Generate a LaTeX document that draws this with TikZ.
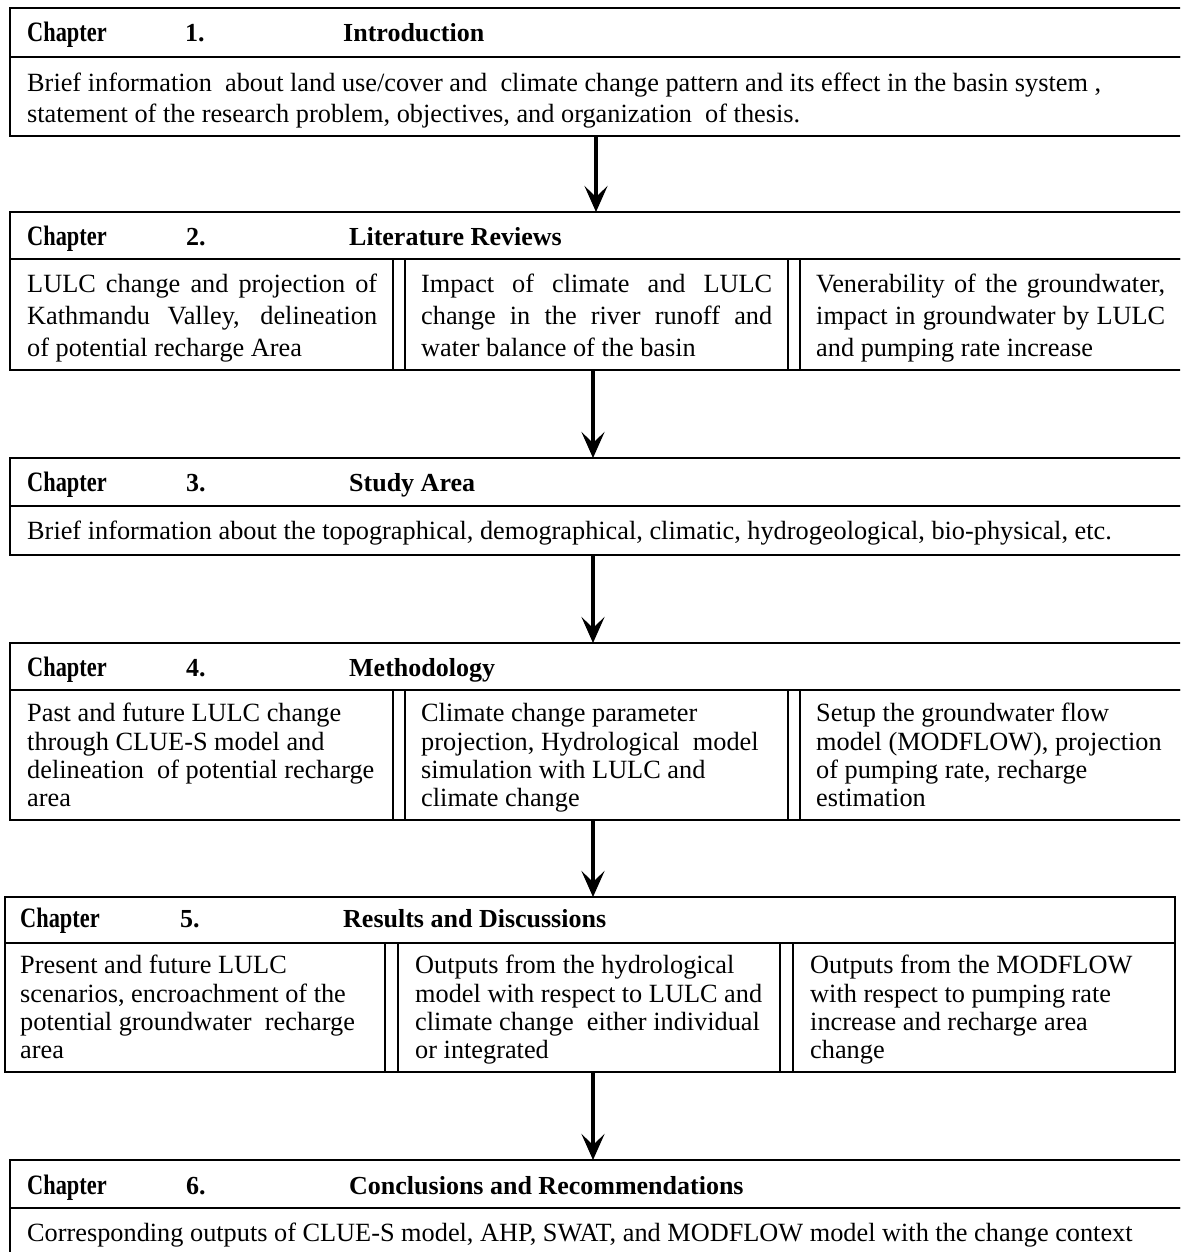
\documentclass[tikz,border=0pt]{standalone}
\usepackage{fontspec}
\usepackage{graphicx}
\setmainfont{Liberation Serif}
\usetikzlibrary{arrows.meta}
\tikzset{
  box/.style={draw=black, line width=1.9pt, rectangle, inner sep=0pt, outer sep=0pt, anchor=north west},
  txt/.style={inner sep=0pt, anchor=base west, font=\fontsize{26.3}{30}\selectfont},
  hd/.style={inner sep=0pt, anchor=base west, font=\fontsize{26}{30}\selectfont\bfseries},
  arr/.style={line width=4.8pt, -{Stealth[length=26pt,width=23pt,inset=11pt]}}
}
\newcommand\tline[4]{\node[txt] (#1) at (#2,#3) {#4};}
\newcommand\jline[5]{\node[txt] (#1) at (#2,#3) {\makebox[#4pt][s]{#5}};}
\newcommand\bx[5]{\node[box, minimum width=#4pt, minimum height=#5pt] (#1) at (#2,#3) {};}
\newcommand\chap{\scalebox{0.86}[1.08]{Chapter}}
\begin{document}
\begin{tikzpicture}[x=1pt,y=-1pt]
\useasboundingbox (0,0) rectangle (1180,1252);
\clip (0,0) rectangle (1180,1252);
% ---------------- Chapter 1
\bx{c1h}{10}{8}{1200}{49}
\bx{c1b}{10}{57}{1200}{79}
\node[hd] (c1k) at (27,42) {\chap};
\node[hd] (c1n) at (185,42) {1.};
\node[hd] (c1t) at (343,42) {Introduction};
\tline{c1l1}{27}{91.5}{Brief information\ \ about land use/cover and\ \ climate change pattern and its effect in the basin system ,}
\tline{c1l2}{27}{122.5}{statement of the research problem, objectives, and organization\ \ of thesis.}
% ---------------- Chapter 2
\bx{c2h}{10}{212}{1200}{47}
\bx{c2a}{10}{259}{383}{111}
\bx{c2g1}{393}{259}{12}{111}
\bx{c2b}{405}{259}{383}{111}
\bx{c2g2}{788}{259}{12}{111}
\bx{c2c}{800}{259}{400}{111}
\node[hd] (c2k) at (27,245) {\chap};
\node[hd] (c2n) at (186,245) {2.};
\node[hd] (c2t) at (349,245) {Literature Reviews};
\jline{c2a1}{27}{292.5}{350}{LULC change and projection of}
\jline{c2a2}{27}{324.5}{350}{Kathmandu Valley, delineation}
\tline{c2a3}{27}{356.5}{of potential recharge Area}
\jline{c2b1}{421}{292.5}{351}{Impact of climate and LULC}
\jline{c2b2}{421}{324.5}{351}{change in the river runoff and}
\tline{c2b3}{421}{356.5}{water balance of the basin}
\jline{c2c1}{816}{292.5}{349}{Venerability of the groundwater,}
\jline{c2c2}{816}{324.5}{349}{impact in groundwater by LULC}
\tline{c2c3}{816}{356.5}{and pumping rate increase}
% ---------------- Chapter 3
\bx{c3h}{10}{458}{1200}{48}
\bx{c3b}{10}{506}{1200}{49}
\node[hd] (c3k) at (27,491) {\chap};
\node[hd] (c3n) at (186,491) {3.};
\node[hd] (c3t) at (349,491) {Study Area};
\tline{c3l1}{27}{539.5}{Brief information about the topographical, demographical, climatic, hydrogeological, bio-physical, etc.}
% ---------------- Chapter 4
\bx{c4h}{10}{643}{1200}{47}
\bx{c4a}{10}{690}{383}{130}
\bx{c4g1}{393}{690}{12}{130}
\bx{c4b}{405}{690}{383}{130}
\bx{c4g2}{788}{690}{12}{130}
\bx{c4c}{800}{690}{400}{130}
\node[hd] (c4k) at (27,676) {\chap};
\node[hd] (c4n) at (186,676) {4.};
\node[hd] (c4t) at (349,676) {Methodology};
\tline{c4a1}{27}{721.5}{Past and future LULC change}
\tline{c4a2}{27}{750.5}{through CLUE-S model and}
\tline{c4a3}{27}{778.5}{delineation\ \ of potential recharge}
\tline{c4a4}{27}{806.5}{area}
\tline{c4b1}{421}{721.5}{Climate change parameter}
\tline{c4b2}{421}{750.5}{projection, Hydrological\ \ model}
\tline{c4b3}{421}{778.5}{simulation with LULC and}
\tline{c4b4}{421}{806.5}{climate change}
\tline{c4c1}{816}{721.5}{Setup the groundwater flow}
\tline{c4c2}{816}{750.5}{model (MODFLOW), projection}
\tline{c4c3}{816}{778.5}{of pumping rate, recharge}
\tline{c4c4}{816}{806.5}{estimation}
% ---------------- Chapter 5
\bx{c5h}{5}{897}{1170}{46}
\bx{c5a}{5}{943}{380}{129}
\bx{c5g1}{385}{943}{13}{129}
\bx{c5b}{398}{943}{382}{129}
\bx{c5g2}{780}{943}{13}{129}
\bx{c5c}{793}{943}{382}{129}
\node[hd] (c5k) at (20,927) {\chap};
\node[hd] (c5n) at (180,927) {5.};
\node[hd] (c5t) at (343,927) {Results and Discussions};
\tline{c5a1}{20}{973.5}{Present and future LULC}
\tline{c5a2}{20}{1002.5}{scenarios, encroachment of the}
\tline{c5a3}{20}{1030.5}{potential groundwater\ \ recharge}
\tline{c5a4}{20}{1058.5}{area}
\tline{c5b1}{415}{973.5}{Outputs from the hydrological}
\tline{c5b2}{415}{1002.5}{model with respect to LULC and}
\tline{c5b3}{415}{1030.5}{climate change\ \ either individual}
\tline{c5b4}{415}{1058.5}{or integrated}
\tline{c5c1}{810}{973.5}{Outputs from the MODFLOW}
\tline{c5c2}{810}{1002.5}{with respect to pumping rate}
\tline{c5c3}{810}{1030.5}{increase and recharge area}
\tline{c5c4}{810}{1058.5}{change}
% ---------------- Chapter 6
\bx{c6h}{10}{1160}{1200}{48}
\bx{c6b}{10}{1208}{1200}{80}
\node[hd] (c6k) at (27,1194) {\chap};
\node[hd] (c6n) at (186,1194) {6.};
\node[hd] (c6t) at (349,1194) {Conclusions and Recommendations};
\tline{c6l1}{27}{1241.5}{Corresponding outputs of CLUE-S model, AHP, SWAT, and MODFLOW model with the change context}
% ---------------- arrows
\coordinate (ax1) at (596,0);
\coordinate (ax2) at (593,0);
\draw[arr] (c1b.south -| ax1) -- (c2h.north -| ax1);
\draw[arr] (c2b.south -| ax2) -- (c3h.north -| ax2);
\draw[arr] (c3b.south -| ax2) -- (c4h.north -| ax2);
\draw[arr] (c4b.south -| ax2) -- (c5h.north -| ax2);
\draw[arr] (c5b.south -| ax2) -- (c6h.north -| ax2);
\end{tikzpicture}
\end{document}
